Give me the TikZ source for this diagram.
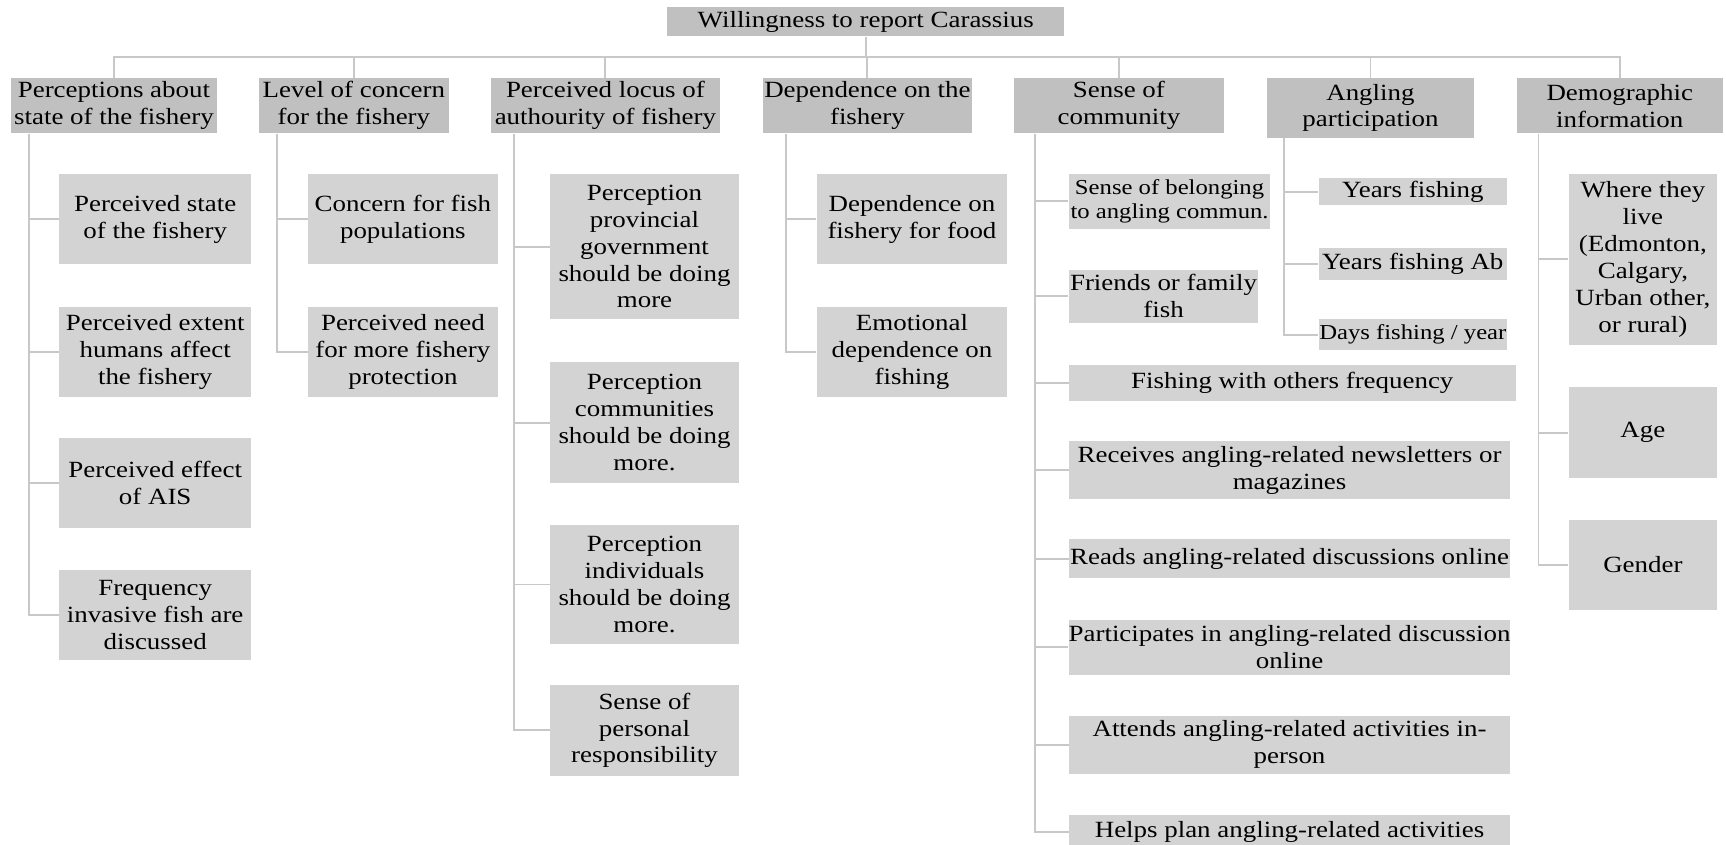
\documentclass[tikz,border=0pt]{standalone}
\usepackage{fontspec}
\setmainfont[FakeStretch=1.16]{Liberation Serif}
\begin{document}
\begin{tikzpicture}[x=0.02cm, y=-0.02cm]
  % Definir colores
  \definecolor{headcolor}{RGB}{192,192,192}
  \definecolor{itemcolor}{RGB}{211,211,211}
  \definecolor{linecolor}{RGB}{200,200,200}

  % Configurar estilo de nodos
  \tikzset{
    head/.style={fill=headcolor, inner sep=0pt, align=center, font=\fontsize{12}{13.9}\selectfont, minimum height=1cm},
    item/.style={fill=itemcolor, inner sep=0pt, align=center, font=\fontsize{12}{13.9}\selectfont},
    smallitem/.style={item, font=\fontsize{11}{12.6}\selectfont},
    link/.style={draw=linecolor, line width=1pt}
  }

  \useasboundingbox (0,0) rectangle (1568,767);

  % Nodo raiz
  \node[head, minimum width=7.22cm, minimum height=0.54cm] (root) at (786.5,19.5) {Willingness to report Carassius};

  % Categorias principales
  \node[head, minimum width=3.74cm] (state) at (103.5,96) {Perceptions about\\state of the fishery};
  \node[head, minimum width=3.46cm] (concern) at (321.5,96) {Level of concern\\for the fishery};
  \node[head, minimum width=4.16cm] (locus) at (550,96) {Perceived locus of\\authourity of fishery};
  \node[head, minimum width=3.8cm] (depend) at (788,96) {Dependence on the\\fishery};
  \node[head, minimum width=3.82cm] (community) at (1016.5,96) {Sense of\\community};
  \node[head, minimum width=3.76cm, minimum height=1.08cm] (angling) at (1245,98) {Angling\\participation};
  \node[head, minimum width=3.74cm] (demo) at (1471.5,96) {Demographic\\information};

  % Estado de la pesqueria
  \node[item, minimum width=3.48cm, minimum height=1.64cm] (stateA) at (141,199) {Perceived state\\of the fishery};
  \node[item, minimum width=3.48cm, minimum height=1.64cm] (stateB) at (141,319.5) {Perceived extent\\humans affect\\the fishery};
  \node[item, minimum width=3.48cm, minimum height=1.64cm] (stateC) at (141,439) {Perceived effect\\of AIS};
  \node[item, minimum width=3.48cm, minimum height=1.64cm] (stateD) at (141,559) {Frequency\\invasive fish are\\discussed};

  % Nivel de preocupacion
  \node[item, minimum width=3.44cm, minimum height=1.64cm] (concernA) at (366,199) {Concern for fish\\populations};
  \node[item, minimum width=3.44cm, minimum height=1.64cm] (concernB) at (366,319.5) {Perceived need\\for more fishery\\protection};

  % Autoridad
  \node[item, minimum width=3.42cm, minimum height=2.64cm] (locusA) at (585.5,224) {Perception\\provincial\\government\\should be doing\\more};
  \node[item, minimum width=3.42cm, minimum height=2.2cm] (locusB) at (585.5,384) {Perception\\communities\\should be doing\\more.};
  \node[item, minimum width=3.42cm, minimum height=2.16cm] (locusC) at (585.5,531) {Perception\\individuals\\should be doing\\more.};
  \node[item, minimum width=3.42cm, minimum height=1.66cm] (locusD) at (585.5,663.5) {Sense of\\personal\\responsibility};

  % Dependencia
  \node[item, minimum width=3.46cm, minimum height=1.64cm] (dependA) at (828.5,199) {Dependence on\\fishery for food};
  \node[item, minimum width=3.46cm, minimum height=1.64cm] (dependB) at (828.5,319.5) {Emotional\\dependence on\\fishing};

  % Sentido de comunidad
  \node[smallitem, minimum width=3.66cm, minimum height=1cm] (communityA) at (1062.5,183) {Sense of belonging\\to angling commun.};
  \node[item, minimum width=3.44cm, minimum height=0.96cm] (communityB) at (1057,269) {Friends or family\\fish};
  \node[item, minimum width=8.12cm, minimum height=0.64cm] (communityC) at (1174,348) {Fishing with others frequency};
  \node[item, minimum width=8.02cm, minimum height=1.04cm] (communityD) at (1171.5,427) {Receives angling-related newsletters or\\magazines};
  \node[item, minimum width=8.02cm, minimum height=0.7cm] (communityE) at (1171.5,507.5) {Reads angling-related discussions online};
  \node[item, minimum width=8.02cm, minimum height=1cm] (communityF) at (1171.5,588) {Participates in angling-related discussion\\online};
  \node[item, minimum width=8.02cm, minimum height=1.06cm] (communityG) at (1171.5,676.5) {Attends angling-related activities in-\\person};
  \node[item, minimum width=8.02cm, minimum height=0.64cm] (communityH) at (1171.5,756) {Helps plan angling-related activities};

  % Participacion
  \node[item, minimum width=3.42cm, minimum height=0.48cm] (anglingA) at (1283.5,174) {Years fishing};
  \node[item, minimum width=3.42cm, minimum height=0.58cm] (anglingB) at (1283.5,239.5) {Years fishing Ab};
  \node[smallitem, minimum width=3.42cm, minimum height=0.56cm] (anglingC) at (1283.5,304) {Days fishing / year};

  % Informacion demografica
  \node[item, minimum width=2.7cm, minimum height=3.1cm] (demoA) at (1492.5,235.5) {Where they\\live\\(Edmonton,\\Calgary,\\Urban other,\\or rural)};
  \node[item, minimum width=2.7cm, minimum height=1.64cm] (demoB) at (1492.5,393) {Age};
  \node[item, minimum width=2.7cm, minimum height=1.64cm] (demoC) at (1492.5,513) {Gender};

  % Lineas principales
  \coordinate (bus) at (0,52);
  \draw[link] (root.south) -- (root.south |- bus);
  \draw[link] (root.south |- bus) -| (state.north);
  \draw[link] (root.south |- bus) -| (concern.north);
  \draw[link] (root.south |- bus) -| (locus.north);
  \draw[link] (root.south |- bus) -| (depend.north);
  \draw[link] (root.south |- bus) -| (community.north);
  \draw[link] (root.south |- bus) -| (angling.north);
  \draw[link] (root.south |- bus) -| (demo.north);

  % Ramas
  \coordinate (stateSpine) at ([xshift=0.34cm]state.south west);
  \coordinate (concernSpine) at ([xshift=0.34cm]concern.south west);
  \coordinate (locusSpine) at ([xshift=0.42cm]locus.south west);
  \coordinate (dependSpine) at ([xshift=0.42cm]depend.south west);
  \coordinate (communitySpine) at ([xshift=0.4cm]community.south west);
  \coordinate (anglingSpine) at ([xshift=0.32cm]angling.south west);
  \coordinate (demoSpine) at ([xshift=0.4cm]demo.south west);

  \draw[link] (stateSpine) |- (stateA.west) (stateSpine) |- (stateB.west)
              (stateSpine) |- (stateC.west) (stateSpine) |- (stateD.west);
  \draw[link] (concernSpine) |- (concernA.west) (concernSpine) |- (concernB.west);
  \draw[link] (locusSpine) |- (locusA.west) (locusSpine) |- (locusB.west)
              (locusSpine) |- (locusC.west) (locusSpine) |- (locusD.west);
  \draw[link] (dependSpine) |- (dependA.west) (dependSpine) |- (dependB.west);
  \draw[link] (communitySpine) |- (communityA.west) (communitySpine) |- (communityB.west)
              (communitySpine) |- (communityC.west) (communitySpine) |- (communityD.west)
              (communitySpine) |- (communityE.west) (communitySpine) |- (communityF.west)
              (communitySpine) |- (communityG.west) (communitySpine) |- (communityH.west);
  \draw[link] (anglingSpine) |- (anglingA.west) (anglingSpine) |- (anglingB.west)
              (anglingSpine) |- (anglingC.west);
  \draw[link] (demoSpine) |- (demoA.west) (demoSpine) |- (demoB.west)
              (demoSpine) |- (demoC.west);
\end{tikzpicture}
\end{document}
